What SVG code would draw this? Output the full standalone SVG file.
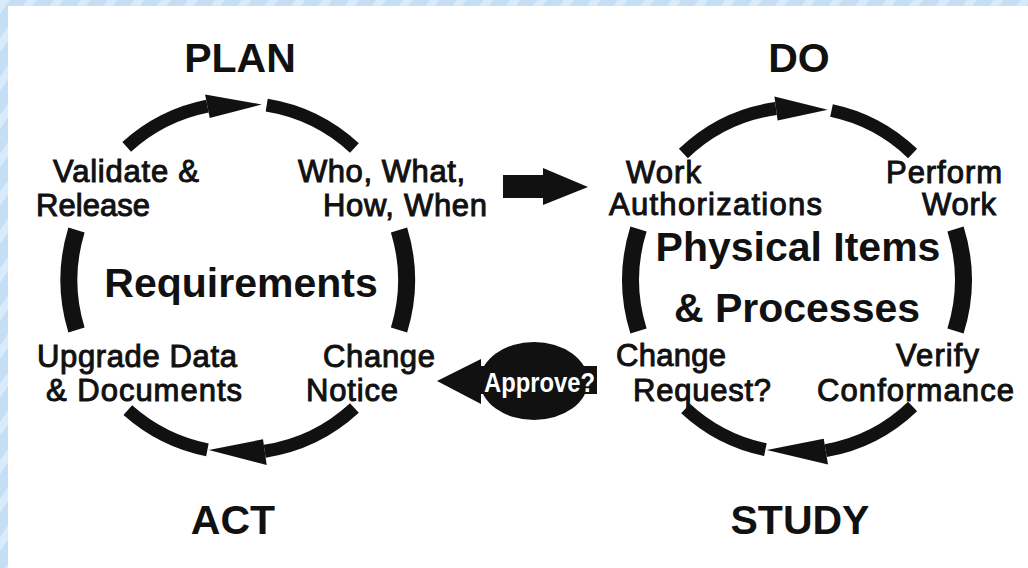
<svg xmlns="http://www.w3.org/2000/svg" width="1028" height="568" viewBox="0 0 1028 568">
<style>
.bg{fill:#ffffff}
.title{font-family:"Liberation Sans",Arial,sans-serif;font-weight:bold;font-size:41px;fill:#111;text-anchor:middle}
.big{font-family:"Liberation Sans",Arial,sans-serif;font-weight:bold;font-size:41px;fill:#111;text-anchor:middle}
.lbl{font-family:"Liberation Sans",Arial,sans-serif;font-size:31px;fill:#111;stroke:#111;stroke-width:1}
.arc{fill:none;stroke:#111;stroke-width:13}
.br{fill:none;stroke:#111;stroke-width:17}
.head{fill:#111}
.appr{font-family:"Liberation Sans",Arial,sans-serif;font-weight:bold;font-size:28px;fill:#fff}
</style>
<defs>
<pattern id="stripes" width="22" height="22" patternUnits="userSpaceOnUse" patternTransform="rotate(35)">
<rect width="22" height="22" fill="#c4def6"/>
<rect width="8" height="22" fill="#d9ebfb"/>
</pattern>
</defs>
<rect x="0" y="0" width="1028" height="568" fill="url(#stripes)"/>
<rect class="bg" x="8" y="6" width="1020" height="562"/>

<g id="plan"><text class="title" x="240" y="72">PLAN</text></g>
<g id="do"><text class="title" x="799" y="72">DO</text></g>
<g id="act"><text class="title" x="233" y="534">ACT</text></g>
<g id="study"><text class="title" x="800" y="534">STUDY</text></g>

<g id="requirements"><text class="big" x="241" y="297" font-size="42">Requirements</text></g>
<g id="physical-items"><text class="big" x="798" y="261" font-size="40">Physical Items</text><text class="big" x="797" y="322" font-size="40">&amp; Processes</text></g>

<g id="validate-release"><text class="lbl" x="53" y="182" textLength="146" lengthAdjust="spacing">Validate &amp;</text><text class="lbl" x="36" y="216" textLength="114" lengthAdjust="spacing">Release</text></g>
<g id="who-what"><text class="lbl" x="298" y="182" textLength="167" lengthAdjust="spacing">Who, What,</text><text class="lbl" x="323" y="216" textLength="164" lengthAdjust="spacing">How, When</text></g>
<g id="upgrade-data"><text class="lbl" x="37" y="367" textLength="200" lengthAdjust="spacing">Upgrade Data</text><text class="lbl" x="46" y="401" textLength="196" lengthAdjust="spacing">&amp; Documents</text></g>
<g id="change-notice"><text class="lbl" x="323" y="367" textLength="112" lengthAdjust="spacing">Change</text><text class="lbl" x="306" y="401" textLength="92" lengthAdjust="spacing">Notice</text></g>
<g id="work-authorizations"><text class="lbl" x="626" y="183" textLength="75" lengthAdjust="spacing">Work</text><text class="lbl" x="609" y="215" textLength="213" lengthAdjust="spacing">Authorizations</text></g>
<g id="perform-work"><text class="lbl" x="886" y="183" textLength="116" lengthAdjust="spacing">Perform</text><text class="lbl" x="922" y="215" textLength="74" lengthAdjust="spacing">Work</text></g>
<g id="change-request"><text class="lbl" x="616" y="366" textLength="110" lengthAdjust="spacing">Change</text><text class="lbl" x="633" y="401" textLength="138" lengthAdjust="spacing">Request?</text></g>
<g id="verify-conformance"><text class="lbl" x="896" y="366" textLength="83" lengthAdjust="spacing">Verify</text><text class="lbl" x="817" y="401" textLength="197" lengthAdjust="spacing">Conformance</text></g>

<g id="approve">
<ellipse cx="534" cy="381" rx="54" ry="39" fill="#111"/>
<polygon class="head" points="437,381 481,359 481,404"/>
<rect x="480" y="366" width="117" height="28" fill="#111"/>
<text class="appr" x="484" y="392" textLength="111" lengthAdjust="spacingAndGlyphs">Approve?</text>
</g>

<g id="connectors">
<path class="arc" d="M126.7 146.9 A171 175 0 0 1 207.4 106.2"/>
<polygon class="head" points="205.1,94.4 261.7,104.4 209.7,118.0"/>
<path class="arc" d="M266.7 105.2 A171 175 0 0 1 354.4 148.0"/>
<path class="arc" d="M354.4 408.0 A171 175 0 0 1 264.7 451.2"/>
<polygon class="head" points="266.7,465.0 208.8,450.1 263.0,439.3"/>
<path class="arc" d="M207.4 449.8 A171 175 0 0 1 127.8 410.1"/>
<path class="br" d="M76.5 330 A170 170 0 0 1 76.5 230"/>
<path class="br" d="M399 230 A170 170 0 0 1 399 330"/>

<path class="arc" d="M683.4 153.5 A168 173 0 0 1 776.0 108.5"/>
<polygon class="head" points="774.4,96.6 827.8,109.7 777.6,120.4"/>
<path class="arc" d="M831.5 110.5 A168 173 0 0 1 912.6 153.5"/>
<path class="arc" d="M912.6 406.5 A168 173 0 0 1 825.7 450.6"/>
<polygon class="head" points="828.0,464.4 766.8,450.0 823.7,438.8"/>
<path class="arc" d="M765.4 449.7 A168 173 0 0 1 685.6 408.6"/>
<path class="br" d="M638.5 331 A170 170 0 0 1 638.5 229"/>
<path class="br" d="M955.5 229 A170 170 0 0 1 955.5 331"/>

<polygon class="head" points="503,175 543,175 543,168 588,187 543,205 543,198 503,198"/>
</g>
</svg>
